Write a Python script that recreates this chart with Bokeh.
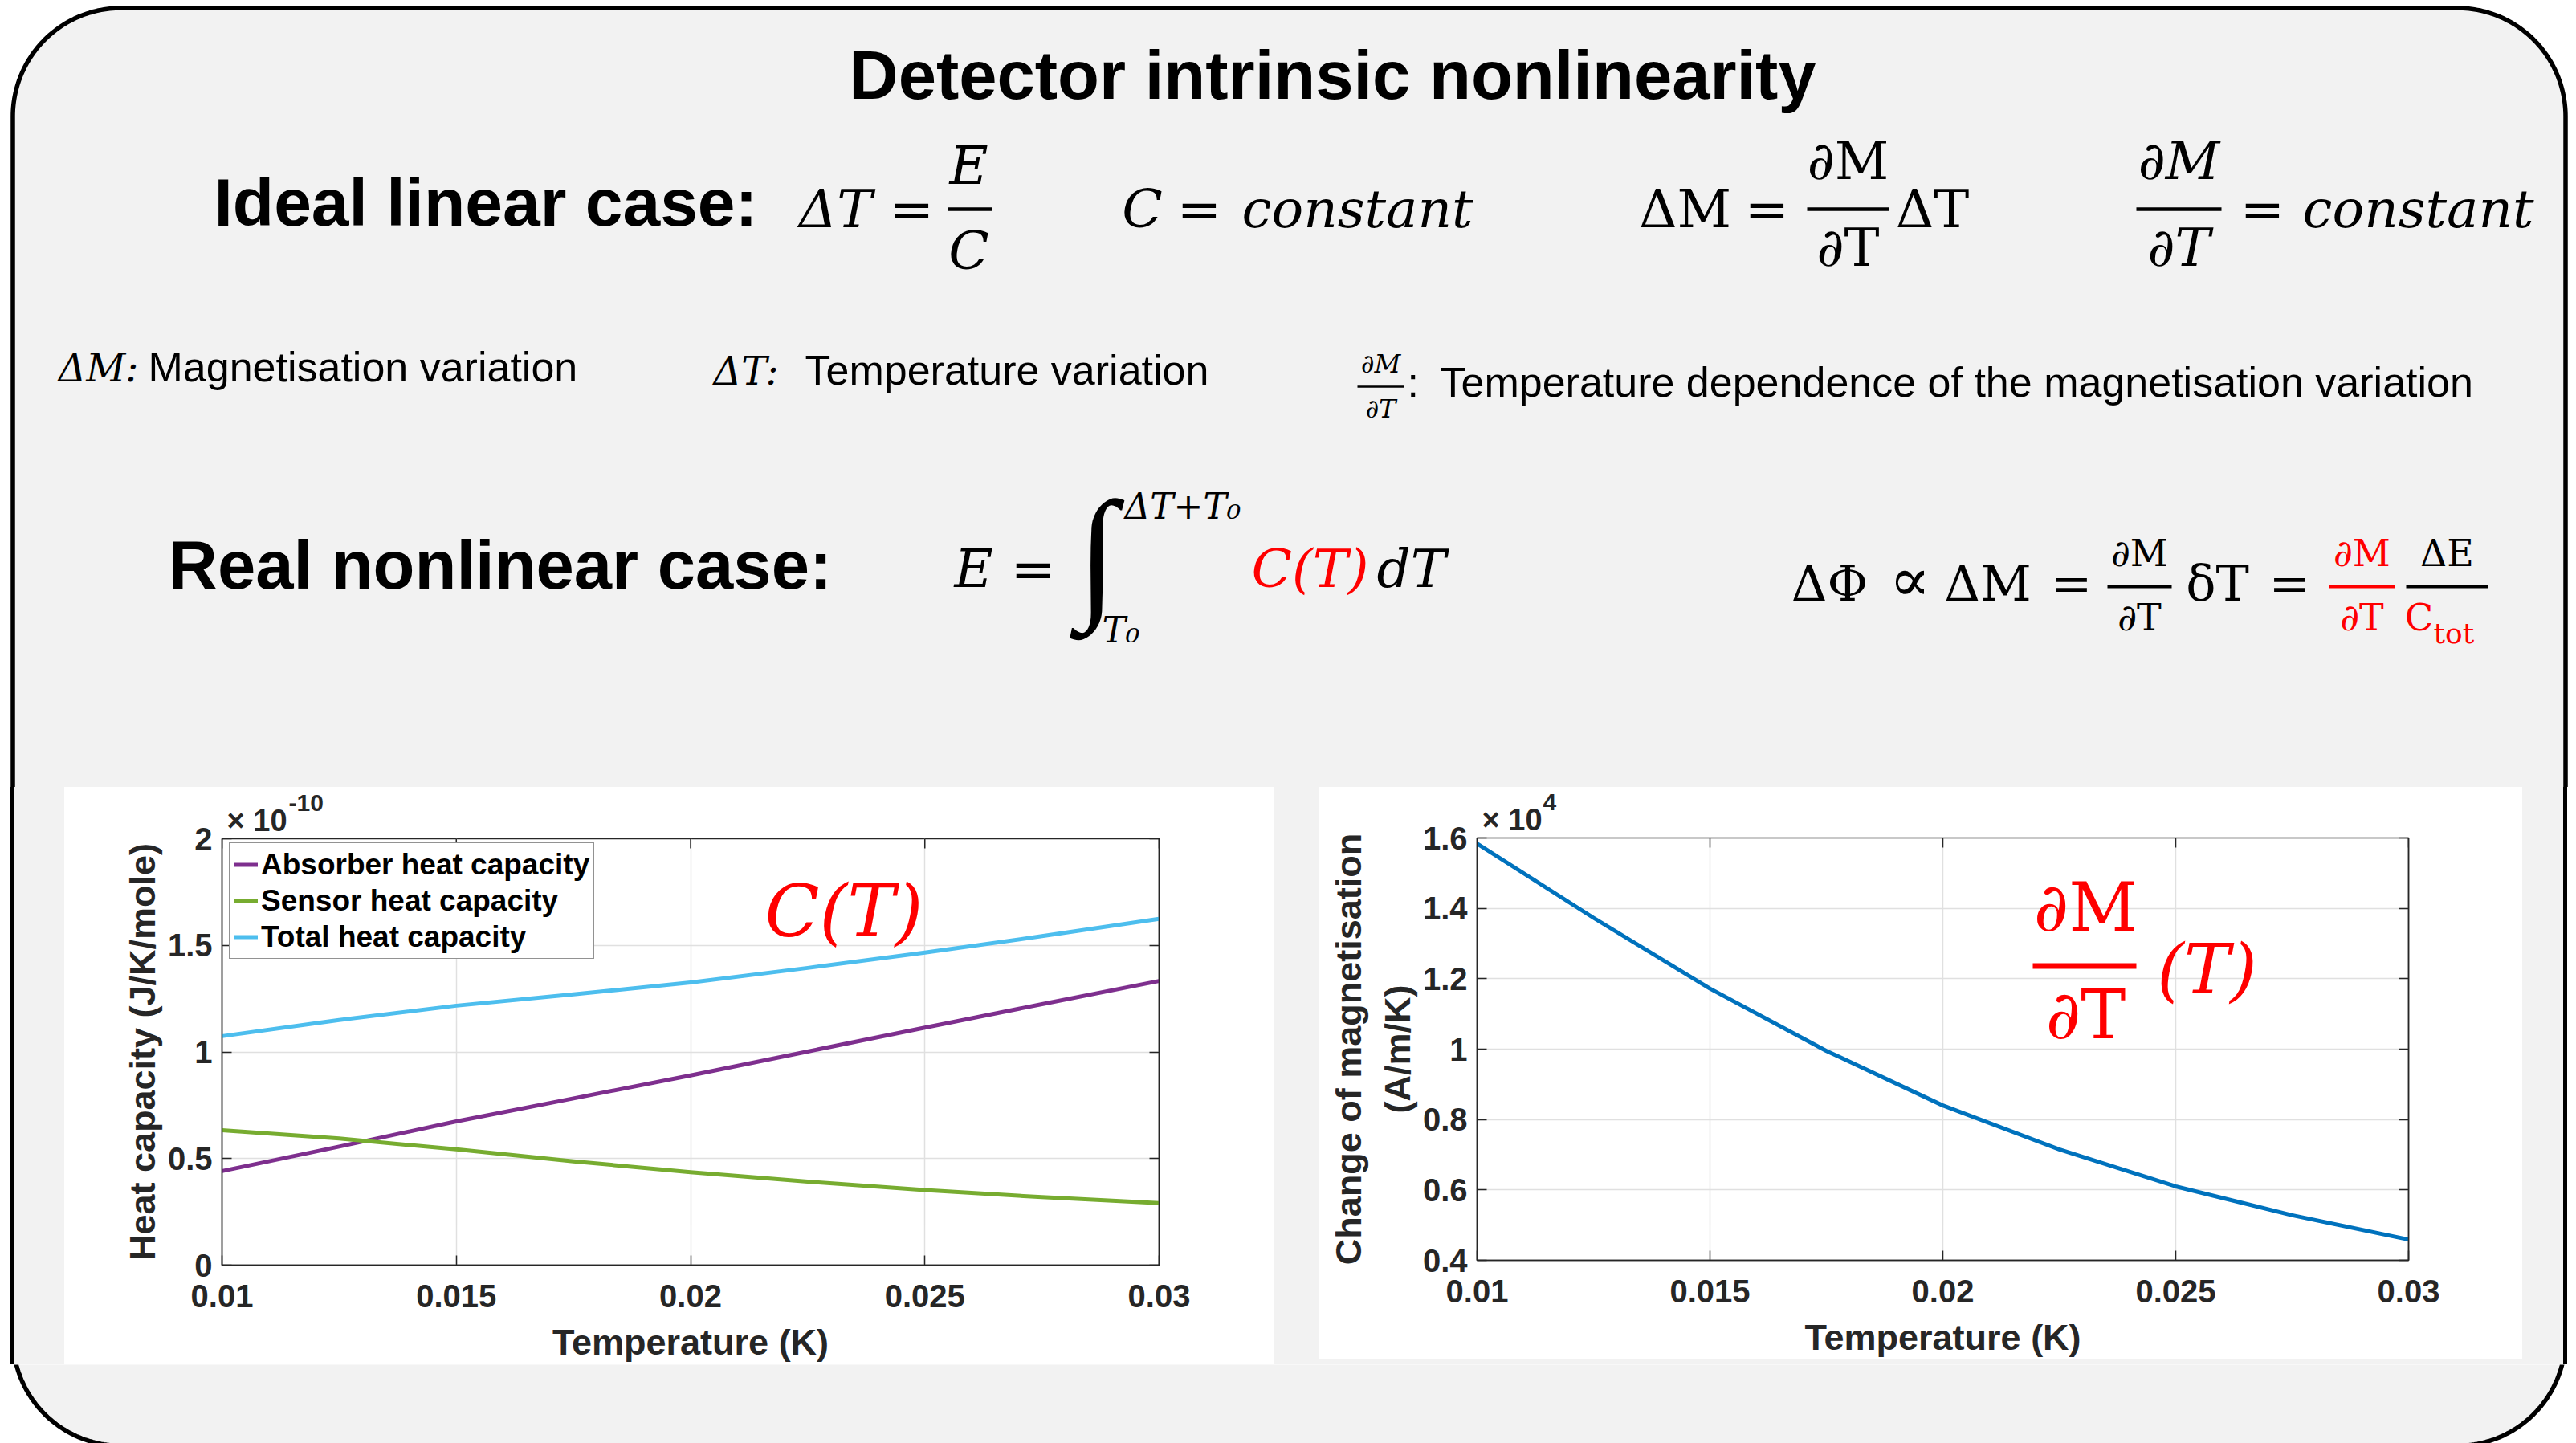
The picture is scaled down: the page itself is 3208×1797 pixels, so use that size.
import numpy as np
from bokeh.plotting import figure
from bokeh.models import (Range1d, Label, FixedTicker, NumeralTickFormatter, LinearAxis,
                          Legend, LegendItem, CustomJSTickFormatter, Div, Title)
from bokeh.layouts import column, row
from bokeh.embed import file_html
from bokeh.resources import INLINE

# ---------------- data ----------------
temperature_K = [0.01, 0.0125, 0.015, 0.0175, 0.02, 0.0225, 0.025, 0.0275, 0.03]
# heat capacities in units of 1e-10 J/K/mole
absorber_C = [0.441, 0.556, 0.674, 0.782, 0.890, 1.002, 1.114, 1.224, 1.333]
sensor_C = [0.633, 0.594, 0.543, 0.487, 0.436, 0.392, 0.352, 0.319, 0.291]
total_C = [1.074, 1.150, 1.217, 1.270, 1.326, 1.394, 1.466, 1.543, 1.624]
# change of magnetisation in units of 1e4 A/m/K
dM_dT = [1.584, 1.373, 1.172, 0.995, 0.840, 0.715, 0.610, 0.528, 0.459]

x_ticks = [0.01, 0.015, 0.02, 0.025, 0.03]
left_y_ticks = [0, 0.5, 1, 1.5, 2]
right_y_ticks = [0.4, 0.6, 0.8, 1.0, 1.2, 1.4, 1.6]
legend_labels = ["Absorber heat capacity", "Sensor heat capacity", "Total heat capacity"]

GRAY = "#f2f2f2"
SANS = "Liberation Sans"
SERIF = "DejaVu Serif"
TSERIF = "Liberation Serif"
AX = "#262626"
RED = "#ff0000"
K = {SANS: 0.35, SERIF: 0.37, TSERIF: 0.34}


# ---------------- helpers ----------------
def border_path(r=135, x0=15.5, x1=3194.5, y0=9.5, y1=1800):
    xs, ys = [], []
    for (cx, cy, a0, a1) in [(x0 + r, y1 - r, 90, 180), (x0 + r, y0 + r, 180, 270),
                             (x1 - r, y0 + r, 270, 360), (x1 - r, y1 - r, 0, 90)]:
        a = np.radians(np.linspace(a0, a1, 60))
        xs += list(cx + r * np.cos(a))
        ys += list(cy + r * np.sin(a))
    return xs, ys


BX, BY = border_path()


def deco(x0, x1, y0, y1):
    p = figure(width=int(round(x1 - x0)), height=int(round(y1 - y0)),
               x_range=Range1d(x0, x1), y_range=Range1d(y1, y0),
               x_axis_type=None, y_axis_type=None, toolbar_location=None,
               output_backend="svg", min_border=0, outline_line_color=None,
               background_fill_color="white", border_fill_color="white")
    p.patch(BX, BY, fill_color=GRAY, line_color="black", line_width=5.5)
    return p


def lab(p, x, base, text, size, font=SERIF, style="normal", color="black",
        align="left", conv=None):
    y = base - K[font] * size
    if conv is not None:
        x, y = conv(x, y)
    p.add_layout(Label(x=x, y=y, text=text, text_font=font, text_font_size=f"{size}px",
                       text_font_style=style, text_color=color, text_align=align,
                       text_baseline="middle"))


def bar(p, xa, xb, y, w=4.5, color="black"):
    p.segment(x0=[xa], y0=[y], x1=[xb], y1=[y], line_width=w, line_color=color)


def pad(width, height, stops):
    return Div(width=width, height=height, margin=0, text="",
               styles={"background": f"linear-gradient(to right, {stops})"})


# ---------------- header ----------------
H = deco(0, 3208, 0, 980)
lab(H, 1659, 123, "Detector intrinsic nonlinearity", 85, SANS, "bold", align="center")
lab(H, 266, 281, "Ideal linear case:", 84, SANS, "bold")

M = 66
B1 = 284
# dT = E / C
lab(H, 1040, B1, "ΔT", M, style="italic", align="center")
lab(H, 1135, B1, "=", M, align="center")
lab(H, 1206, 230, "E", M, style="italic", align="center")
bar(H, 1180, 1235, 260)
lab(H, 1206, 336, "C", M, style="italic", align="center")
# C = constant
lab(H, 1422, B1, "C", M, style="italic", align="center")
lab(H, 1493, B1, "=", M, align="center")
lab(H, 1690, B1, "constant", M, style="italic", align="center")
# dM = dM/dT dT
lab(H, 2098, B1, "ΔM", M, align="center")
lab(H, 2200, B1, "=", M, align="center")
lab(H, 2301, 224, "∂M", M, align="center")
bar(H, 2250, 2352, 260)
lab(H, 2301, 332, "∂T", M, align="center")
lab(H, 2406, B1, "ΔT", M, align="center")
# dM/dT = constant
lab(H, 2713, 224, "∂M", M, style="italic", align="center")
bar(H, 2660, 2766, 260)
lab(H, 2713, 332, "∂T", M, style="italic", align="center")
lab(H, 2817, B1, "=", M, align="center")
lab(H, 3011, B1, "constant", M, style="italic", align="center")

# descriptions
lab(H, 72, 475, "ΔM:", 48, style="italic")
lab(H, 184, 475, "Magnetisation variation", 52, SANS)
lab(H, 888, 479, "ΔT:", 48, style="italic")
lab(H, 1002, 479, "Temperature variation", 52, SANS)
lab(H, 1719, 464, "∂M", 32, style="italic", align="center")
bar(H, 1690, 1748, 481, w=2.5)
lab(H, 1719, 520, "∂T", 32, style="italic", align="center")
lab(H, 1752, 494, ":", 52, SANS)
lab(H, 1793, 494, "Temperature dependence of the magnetisation variation", 52, SANS)

# real nonlinear case
lab(H, 209, 733, "Real nonlinear case:", 85, SANS, "bold")
lab(H, 1212, 732, "E", M, style="italic", align="center")
lab(H, 1286, 732, "=", M, align="center")
lab(H, 1366, 749, "∫", 180, TSERIF, "italic", align="center")
lab(H, 1400, 646, "ΔT+T₀", 44, style="italic")
lab(H, 1372, 800, "T₀", 44, style="italic")
lab(H, 1558, 732, "C(T)", M, style="italic", color=RED)
lab(H, 1714, 732, "dT", M, style="italic")

R2 = 749
m2 = 62
f2 = 46
lab(H, 2278, R2, "ΔΦ", m2, align="center")
lab(H, 2378, R2, "∝", 76, align="center")
lab(H, 2475, R2, "ΔM", m2, align="center")
lab(H, 2579, R2, "=", m2, align="center")
lab(H, 2664, 706, "∂M", f2, align="center")
bar(H, 2624, 2704, 730, w=4)
lab(H, 2664, 786, "∂T", f2, align="center")
lab(H, 2761, R2, "δT", m2, align="center")
lab(H, 2851, R2, "=", m2, align="center")
lab(H, 2941, 706, "∂M", f2, color=RED, align="center")
bar(H, 2900, 2982, 730, w=4, color=RED)
lab(H, 2941, 786, "∂T", f2, color=RED, align="center")
lab(H, 3047, 706, "ΔE", f2, align="center")
bar(H, 2996, 3098, 730, w=4)
lab(H, 3012, 786, "C", f2, color=RED, align="center")
lab(H, 3030, 801, "tot", 36, color=RED)


# ---------------- charts ----------------
def style_axes(p, yticks, xlabel, ylabel, exponent, exp_offset, frame_h, ytop):
    p.xaxis.ticker = FixedTicker(ticks=x_ticks)
    p.yaxis.ticker = FixedTicker(ticks=yticks)
    p.xaxis.formatter = NumeralTickFormatter(format="0.[000]")
    p.yaxis.formatter = NumeralTickFormatter(format="0.[0]")
    p.xaxis.axis_label = xlabel
    p.yaxis.axis_label = ylabel
    for ax in list(p.xaxis) + list(p.yaxis):
        ax.major_label_text_font = SANS
        ax.major_label_text_font_style = "bold"
        ax.major_label_text_font_size = "40px"
        ax.major_label_text_color = AX
        ax.axis_label_text_font = SANS
        ax.axis_label_text_font_style = "bold"
        ax.axis_label_text_font_size = "45px"
        ax.axis_label_text_color = AX
        ax.major_tick_in = 12
        ax.major_tick_out = 0
        ax.minor_tick_line_color = None
        ax.axis_line_color = AX
        ax.axis_line_width = 1.5
        ax.major_tick_line_color = AX
        ax.major_tick_line_width = 1.5
    p.xaxis.major_label_standoff = 24
    p.xaxis.axis_label_standoff = 15
    p.yaxis.major_label_standoff = 12
    p.yaxis.axis_label_standoff = 3
    p.grid.grid_line_color = "#e0e0e0"
    p.grid.grid_line_width = 1.5
    p.outline_line_color = AX
    p.outline_line_width = 1.5
    # ticks on the right side
    blank = CustomJSTickFormatter(code="return ''")
    ax = LinearAxis(ticker=FixedTicker(ticks=yticks), formatter=blank,
                    major_tick_in=12, major_tick_out=0, minor_tick_line_color=None,
                    axis_line_color=AX, axis_line_width=1.5,
                    major_tick_line_color=AX, major_tick_line_width=1.5,
                    major_label_text_font_size="10px")
    p.add_layout(ax, "right")
    # ticks on the top side
    span = p.y_range.end - p.y_range.start
    p.segment(x0=x_ticks, y0=[ytop] * len(x_ticks), x1=x_ticks,
              y1=[ytop - 12 / frame_h * span] * len(x_ticks), line_color=AX, line_width=1.5)
    # exponent label (x10^n) above the frame
    p.add_layout(Title(text="× 10", align="left", offset=6, standoff=3, text_font=SANS,
                       text_font_size="38px", text_font_style="bold", text_color=AX), "above")
    p.add_layout(Title(text=exponent, align="left", offset=exp_offset, standoff=-24,
                       text_font=SANS, text_font_size="30px", text_font_style="bold",
                       text_color=AX), "above")


# left chart: frame ref x 276..1443, y 1044..1578 ; panel 80..1586, 980..1699
left = figure(width=1506, height=719, x_range=Range1d(0.01, 0.03), y_range=Range1d(0, 2),
              toolbar_location=None, output_backend="svg",
              min_border_left=196, min_border_right=143, min_border_top=64, min_border_bottom=121,
              background_fill_color="white", border_fill_color="white")
style_axes(left, left_y_ticks, "Temperature (K)", "Heat capacity (J/K/mole)", "-10", 83, 534, 2)
colors = ["#7E2F8E", "#77AC30", "#4DBEEE"]
rs = []
for ys, c in zip([absorber_C, sensor_C, total_C], colors):
    rs.append(left.line(temperature_K, ys, line_color=c, line_width=5, line_join="round"))
legend = Legend(items=[LegendItem(label=l, renderers=[r]) for l, r in zip(legend_labels, rs)],
                location=(9, 381), label_text_font=SANS, label_text_font_style="bold",
                label_text_font_size="37px", label_text_color="black",
                glyph_width=30, glyph_height=43, label_height=43, label_standoff=4,
                spacing=2, padding=5, margin=0, border_line_color=AX, border_line_width=1.5,
                background_fill_color="white", background_fill_alpha=1.0)
left.add_layout(legend)


def Lpt(px, py):
    return 0.01 + (px - 276) / 1167 * 0.02, 2 - (py - 1044) / 534 * 2


lab(left, 952, 1168, "C(T)", 89, style="italic", color=RED, conv=Lpt)

# right chart: frame ref x 1839..2999, y 1043..1574 ; panel 1643..3141, 980..1693
right = figure(width=1498, height=713, x_range=Range1d(0.01, 0.03), y_range=Range1d(0.4, 1.6),
               toolbar_location=None, output_backend="svg",
               min_border_left=196, min_border_right=142, min_border_top=63, min_border_bottom=119,
               background_fill_color="white", border_fill_color="white")
style_axes(right, right_y_ticks, "Temperature (K)", "Change of magnetisation\n(A/m/K)", "4", 82,
           531, 1.6)
right.line(temperature_K, dM_dT, line_color="#0072BD", line_width=5, line_join="round")


def Rpt(px, py):
    return 0.01 + (px - 1839) / 1160 * 0.02, 1.6 - (py - 1043) / 531 * 1.2


lab(right, 2597, 1161, "∂M", 84, color=RED, align="center", conv=Rpt)
xa, yb = Rpt(2531, 1204)
xb, _ = Rpt(2660, 1204)
right.segment(x0=[xa], y0=[yb], x1=[xb], y1=[yb], line_width=7, line_color=RED)
lab(right, 2597, 1297, "∂T", 84, color=RED, align="center", conv=Rpt)
lab(right, 2748, 1240, "(T)", 86, style="italic", color=RED, align="center", conv=Rpt)

# ---------------- layout ----------------
left_pad = pad(80, 719, "#ffffff 0px, #ffffff 12.75px, #000000 12.75px, #000000 18.25px, "
                        "#f2f2f2 18.25px, #f2f2f2 100%")
gap = pad(57, 719, "#f2f2f2 0px, #f2f2f2 100%")
right_pad = pad(67, 719, "#f2f2f2 0px, #f2f2f2 50.75px, #000000 50.75px, #000000 56.25px, "
                         "#ffffff 56.25px, #ffffff 100%")
under_right = pad(1498, 6, "#f2f2f2 0px, #f2f2f2 100%")
bottom = deco(0, 3208, 1699, 1797)

middle = row(left_pad, left, gap, column(right, under_right, spacing=0), right_pad, spacing=0)
page = column(H, middle, bottom, spacing=0)

open("out.html", "w").write(file_html(page, INLINE, title="Detector intrinsic nonlinearity"))
